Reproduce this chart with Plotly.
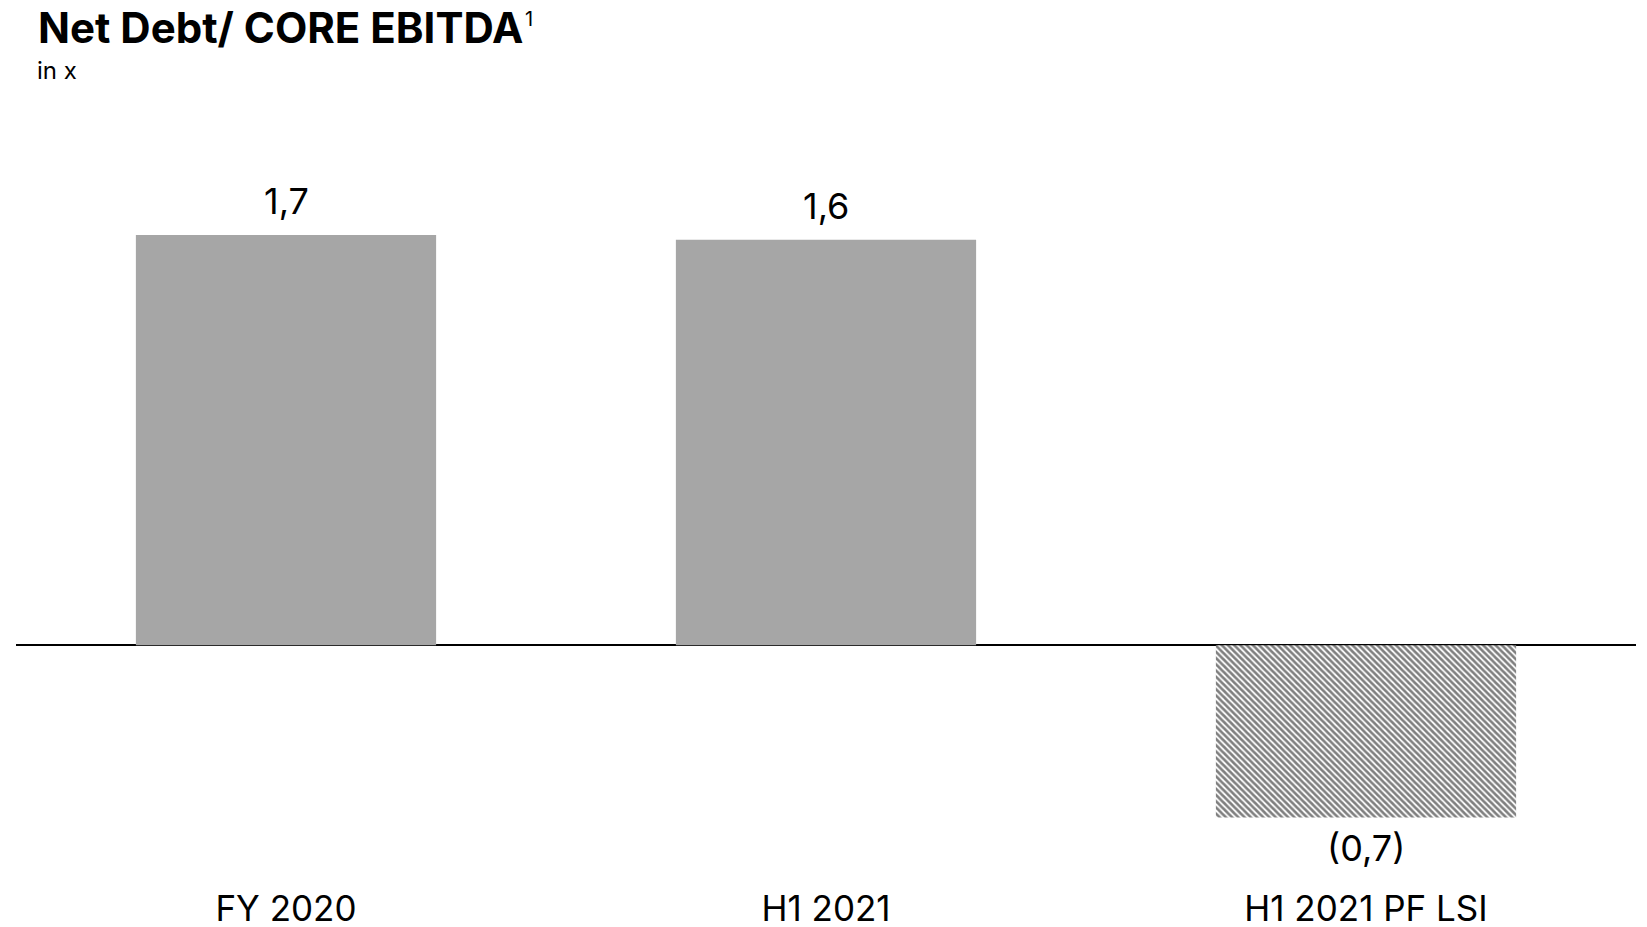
import plotly.graph_objects as go

categories = ["FY 2020", "H1 2021", "H1 2021 PF LSI"]
values = [1.69, 1.67, -0.71]
value_labels = ["1,7", "1,6", "(0,7)"]
hatched = [False, False, True]

FONT = "Inter"
# page body has an 8px margin, so the figure is 8px smaller than the window
W, H = 1639, 919
ML, MR, MT, MB = 8, 11, 91, 42

solid_y = [v if not h else None for v, h in zip(values, hatched)]
hatch_y = [v if h else None for v, h in zip(values, hatched)]

fig = go.Figure()
fig.add_trace(go.Bar(
    x=categories, y=solid_y,
    marker=dict(color="#a6a6a6", line=dict(width=0)),
    hoverinfo="skip",
))
fig.add_trace(go.Bar(
    x=categories, y=hatch_y,
    marker=dict(
        color="white",
        line=dict(width=0),
        pattern=dict(shape="\\", fgcolor="black", bgcolor="white",
                     size=4.4, solidity=0.6, fillmode="overlay"),
    ),
    hoverinfo="skip",
))

pw = W - ML - MR
ph = H - MT - MB


def px(xp):
    return (xp - ML) / pw


def py(yp):
    return (H - MB - yp) / ph


annotations = []
for c, v, t in zip(categories, values, value_labels):
    annotations.append(dict(
        x=c, y=v, xref="x", yref="y", text=t, showarrow=False,
        yanchor="bottom" if v >= 0 else "top",
        yshift=10 if v >= 0 else -6,
        font=dict(family=FONT, size=36, color="black"),
    ))

# title
annotations.append(dict(
    x=px(28), y=py(19), xref="paper", yref="paper",
    text="<b>Net Debt/ CORE EBITDA</b>", showarrow=False,
    xanchor="left", yanchor="middle",
    font=dict(family=FONT, size=42, color="black"),
))
# footnote marker
annotations.append(dict(
    x=px(515), y=py(11), xref="paper", yref="paper",
    text="1", showarrow=False, xanchor="left", yanchor="middle",
    font=dict(family=FONT, size=20, color="black"),
))
# unit
annotations.append(dict(
    x=px(27), y=py(62), xref="paper", yref="paper",
    text="in x", showarrow=False, xanchor="left", yanchor="middle",
    font=dict(family=FONT, size=24, color="black"),
))

fig.update_layout(
    width=W, height=H,
    margin=dict(l=ML, r=MR, t=MT, b=MB, autoexpand=False),
    paper_bgcolor="white", plot_bgcolor="white",
    barmode="overlay",
    bargap=0.444,
    showlegend=False,
    xaxis=dict(
        showgrid=False, showline=False, zeroline=False, automargin=False,
        ticks="", tickfont=dict(family=FONT, size=35, color="black"),
        range=[-0.5, 2.5],
    ),
    yaxis=dict(
        range=[-0.988, 2.25], visible=True, showticklabels=False, automargin=False,
        showgrid=False, showline=False, ticks="",
        zeroline=True, zerolinecolor="black", zerolinewidth=1.6,
    ),
    annotations=annotations,
)

fig.write_html("out.html")
